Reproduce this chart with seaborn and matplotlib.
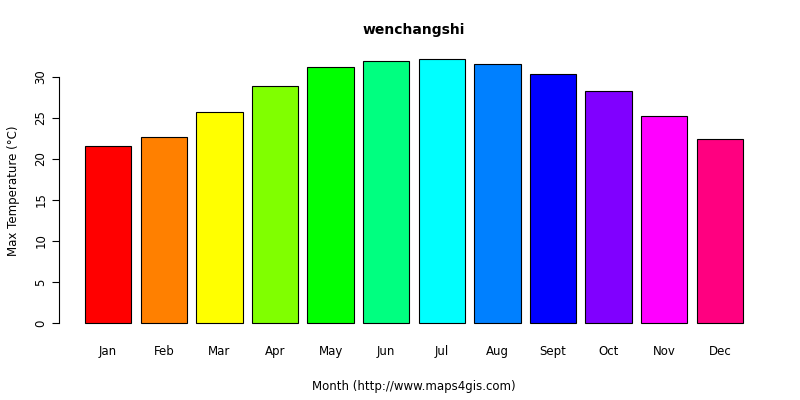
import matplotlib
matplotlib.use('Agg')
import matplotlib.pyplot as plt
import seaborn as sns
import pandas as pd

months = ['Jan', 'Feb', 'Mar', 'Apr', 'May', 'Jun', 'Jul', 'Aug', 'Sept', 'Oct', 'Nov', 'Dec']
max_temp = [21.6, 22.6, 25.7, 28.9, 31.2, 31.9, 32.2, 31.6, 30.3, 28.3, 25.2, 22.4]
colors = ['#FF0000', '#FF8000', '#FFFF00', '#80FF00', '#00FF00', '#00FF80',
          '#00FFFF', '#0080FF', '#0000FF', '#8000FF', '#FF00FF', '#FF0080']

df = pd.DataFrame({'month': months, 'temp': max_temp})

fig = plt.figure(figsize=(8, 4), dpi=100)
ax = fig.add_axes([59/800, 1 - 333.6/400, (769-59)/800, (333.6-48)/400])
sns.barplot(data=df, x='month', y='temp', hue='month', palette=colors,
            width=0.833, edgecolor='black', linewidth=0.8, saturation=1,
            legend=False, ax=ax)

ax.set_xlim(-0.884, 11.884)
ax.set_ylim(-1.29, 33.5)
for s in ['top', 'right', 'bottom']:
    ax.spines[s].set_visible(False)
ax.spines['left'].set_bounds(0, 30)
ax.set_yticks([0, 5, 10, 15, 20, 25, 30])
ax.set_yticklabels(['0', '5', '10', '15', '20', '25', '30'], rotation=90, va='center')
ax.tick_params(axis='x', length=0, labelsize=8.5, pad=8)
ax.tick_params(axis='y', labelsize=8.5, length=5)
ax.set_xlabel('Month (http://www.maps4gis.com)', fontsize=8.5, labelpad=16)
ax.set_ylabel('Max Temperature (°C)', fontsize=8.5, labelpad=10)
ax.set_title('wenchangshi', fontsize=10, fontweight='bold', pad=10)

fig.savefig('out.png', dpi=100, facecolor='white')
